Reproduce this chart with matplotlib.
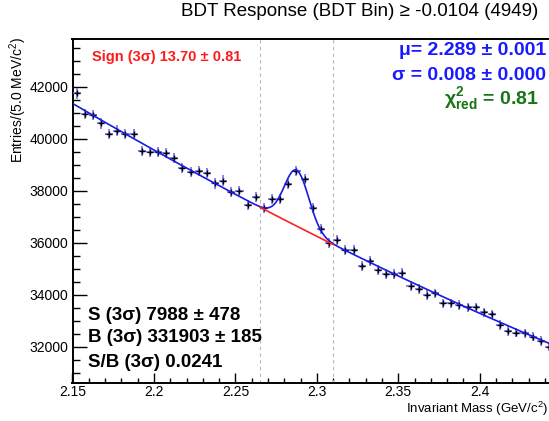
import numpy as np
import matplotlib
matplotlib.use('Agg')
import matplotlib.pyplot as plt
from matplotlib.ticker import MultipleLocator

plt.rcParams['font.family'] = ['Liberation Sans', 'DejaVu Sans']
plt.rcParams['mathtext.fontset'] = 'custom'
plt.rcParams['mathtext.rm'] = 'Liberation Sans'
plt.rcParams['mathtext.it'] = 'Liberation Sans:italic'
plt.rcParams['mathtext.bf'] = 'Liberation Sans:bold'

# binned data (5 MeV bins)
bin_start = 2.15
bin_width = 0.005
counts = [41750, 40950, 40910, 40590, 40180, 40310, 40180, 40180, 39530, 39490,
          39490, 39440, 39260, 38860, 38720, 38770, 38690, 38280, 38390, 37960,
          37990, 37460, 37770, 37335, 37680, 37680, 38250, 38770, 38450, 37320,
          36515, 36000, 36100, 35720, 35720, 35100, 35310, 34950, 34800, 34800,
          34850, 34335, 34210, 33990, 34050, 33670, 33670, 33600, 33515, 33515,
          33320, 33245, 32835, 32600, 32540, 32515, 32385, 32220, 32000]

# fit results (background quadratic around 2.3, gaussian peak)
bkg_coef = [36246, -31413, 17779]
bkg_ref = 2.3
peak_mu = 2.2876
peak_sigma = 0.0075
peak_amp = 2150

x = bin_start + bin_width * (np.arange(len(counts)) + 0.5)
y = np.array(counts, dtype=float)
yerr = np.sqrt(y)


def bkg(m):
    u = m - bkg_ref
    return bkg_coef[0] + bkg_coef[1] * u + bkg_coef[2] * u ** 2


def model(m):
    return bkg(m) + peak_amp * np.exp(-0.5 * ((m - peak_mu) / peak_sigma) ** 2)


xmin, xmax = 2.15, 2.4425
lo, hi = peak_mu - 3 * peak_sigma, peak_mu + 3 * peak_sigma

fig = plt.figure(figsize=(5.49, 4.21), dpi=100)
ax = fig.add_axes([72.5 / 549, 38.3 / 421, 1 - 72.5 / 549, (382.7 - 39) / 421])

ax.axvline(lo, color='#b8b8b8', ls=(0, (3, 3)), lw=0.8)
ax.axvline(hi, color='#b8b8b8', ls=(0, (3, 3)), lw=0.8)

ax.errorbar(x, y, xerr=bin_width / 2, yerr=yerr, fmt='none', ecolor='#6f6fef',
            elinewidth=1.2, capsize=0, zorder=3)
ax.plot(x, y, '+', color='black', ms=5, mew=1.0, zorder=4)

mm = np.linspace(xmin, xmax, 600)
ax.plot(mm, model(mm), color='#1a1ae0', lw=1.2, zorder=5)
mb = np.linspace(lo, hi, 100)
ax.plot(mb, bkg(mb), color='#ff2020', lw=1.2, zorder=5)

ax.set_xlim(xmin, xmax)
ax.set_ylim(30615, 43835)
ax.xaxis.set_minor_locator(MultipleLocator(0.01))
ax.yaxis.set_major_locator(MultipleLocator(2000))
ax.yaxis.set_minor_locator(MultipleLocator(500))
ax.set_xticks([2.15, 2.2, 2.25, 2.3, 2.35, 2.4])
ax.set_xticklabels(['2.15', '2.2', '2.25', '2.3', '2.35', '2.4'])
ax.tick_params(axis='both', which='both', direction='in', labelsize=10,
               width=1.0)
ax.tick_params(axis='y', which='major', length=10, pad=3)
ax.tick_params(axis='y', which='minor', length=5)
ax.tick_params(axis='x', which='major', length=7, pad=2)
ax.tick_params(axis='x', which='minor', length=3.6)
for s in ['left', 'bottom', 'top']:
    ax.spines[s].set_linewidth(1.4)
ax.spines['right'].set_visible(False)

fig.text(18 / 549, 1 - 37 / 421, 'Entries/(5.0 MeV/c$^{2}$)', rotation=90,
         ha='center', va='top', fontsize=10)
fig.text(548 / 549, 1 - 418 / 421, 'Invariant Mass (GeV/c$^{2}$)',
         ha='right', va='bottom', fontsize=9.5)
fig.text(359.5 / 549, 1 - 12 / 421, 'BDT Response (BDT Bin) \u2265 -0.0104 (4949)',
         ha='center', va='center', fontsize=13.5)

fig.text(92 / 549, 1 - 57 / 421, 'Sign (3\u03c3) 13.70 \u00b1 0.81',
         color='#ff1a1a', fontsize=10.5, fontweight='bold', ha='left', va='center')
fig.text(546 / 549, 1 - 50.5 / 421, '\u03bc= 2.289 \u00b1 0.001', color='#1a1aff',
         fontsize=14, fontweight='bold', ha='right', va='center')
fig.text(546 / 549, 1 - 76 / 421, '\u03c3 = 0.008 \u00b1 0.000', color='#1a1aff',
         fontsize=14, fontweight='bold', ha='right', va='center')
fig.text(539 / 549, 1 - 99 / 421, r'$\mathbf{\chi^{2}_{red}}$ = 0.81', color='#177417',
         fontsize=14, fontweight='bold', ha='right', va='center')

fig.text(88 / 549, 1 - 315 / 421, 'S (3\u03c3) 7988 \u00b1 478',
         fontsize=13.5, fontweight='bold', ha='left', va='center')
fig.text(88 / 549, 1 - 338 / 421, 'B (3\u03c3) 331903 \u00b1 185',
         fontsize=13.5, fontweight='bold', ha='left', va='center')
fig.text(88 / 549, 1 - 362.5 / 421, 'S/B (3\u03c3) 0.0241',
         fontsize=13.5, fontweight='bold', ha='left', va='center')

fig.savefig('out.png', dpi=100)
